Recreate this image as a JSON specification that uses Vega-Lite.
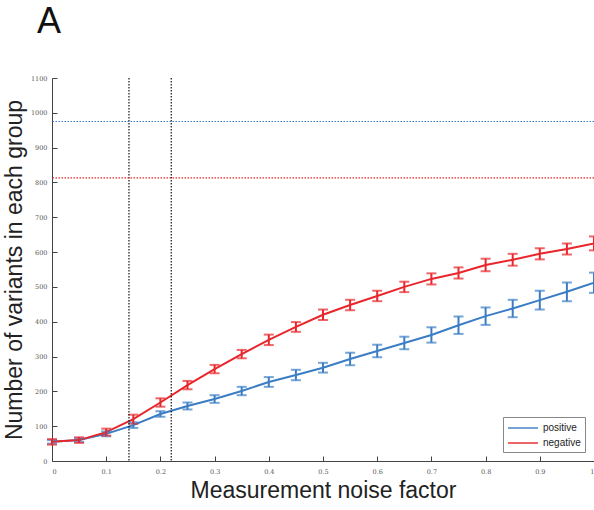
{
  "$schema": "https://vega.github.io/schema/vega-lite/v6.json",
  "width": 542,
  "height": 383,
  "autosize": {"type": "none"},
  "padding": {"left": 52, "top": 78, "right": 0, "bottom": 49},
  "background": "white",
  "title": {"text": "A", "anchor": "start", "frame": "group", "fontSize": 36, "font": "Liberation Sans", "fontWeight": "normal", "color": "#111", "dx": -15, "offset": 34},
  "datasets": {
    "series": [
      {"noise": 0.00, "group": "positive", "mean": 55, "err": 5},
      {"noise": 0.05, "group": "positive", "mean": 60, "err": 5},
      {"noise": 0.10, "group": "positive", "mean": 78, "err": 7},
      {"noise": 0.15, "group": "positive", "mean": 103, "err": 8},
      {"noise": 0.20, "group": "positive", "mean": 135, "err": 8},
      {"noise": 0.25, "group": "positive", "mean": 158, "err": 10},
      {"noise": 0.30, "group": "positive", "mean": 178, "err": 11},
      {"noise": 0.35, "group": "positive", "mean": 201, "err": 12},
      {"noise": 0.40, "group": "positive", "mean": 227, "err": 14},
      {"noise": 0.45, "group": "positive", "mean": 247, "err": 15},
      {"noise": 0.50, "group": "positive", "mean": 268, "err": 14},
      {"noise": 0.55, "group": "positive", "mean": 293, "err": 18},
      {"noise": 0.60, "group": "positive", "mean": 316, "err": 18},
      {"noise": 0.65, "group": "positive", "mean": 339, "err": 18},
      {"noise": 0.70, "group": "positive", "mean": 362, "err": 22},
      {"noise": 0.75, "group": "positive", "mean": 390, "err": 25},
      {"noise": 0.80, "group": "positive", "mean": 416, "err": 25},
      {"noise": 0.85, "group": "positive", "mean": 438, "err": 25},
      {"noise": 0.90, "group": "positive", "mean": 462, "err": 27},
      {"noise": 0.95, "group": "positive", "mean": 486, "err": 27},
      {"noise": 1.00, "group": "positive", "mean": 512, "err": 29},
      {"noise": 0.00, "group": "negative", "mean": 55, "err": 8},
      {"noise": 0.05, "group": "negative", "mean": 60, "err": 8},
      {"noise": 0.10, "group": "negative", "mean": 83, "err": 10},
      {"noise": 0.15, "group": "negative", "mean": 120, "err": 13},
      {"noise": 0.20, "group": "negative", "mean": 168, "err": 12},
      {"noise": 0.25, "group": "negative", "mean": 218, "err": 12},
      {"noise": 0.30, "group": "negative", "mean": 264, "err": 12},
      {"noise": 0.35, "group": "negative", "mean": 307, "err": 12},
      {"noise": 0.40, "group": "negative", "mean": 348, "err": 15},
      {"noise": 0.45, "group": "negative", "mean": 385, "err": 14},
      {"noise": 0.50, "group": "negative", "mean": 420, "err": 15},
      {"noise": 0.55, "group": "negative", "mean": 448, "err": 15},
      {"noise": 0.60, "group": "negative", "mean": 474, "err": 15},
      {"noise": 0.65, "group": "negative", "mean": 500, "err": 15},
      {"noise": 0.70, "group": "negative", "mean": 523, "err": 16},
      {"noise": 0.75, "group": "negative", "mean": 540, "err": 16},
      {"noise": 0.80, "group": "negative", "mean": 563, "err": 18},
      {"noise": 0.85, "group": "negative", "mean": 578, "err": 17},
      {"noise": 0.90, "group": "negative", "mean": 595, "err": 16},
      {"noise": 0.95, "group": "negative", "mean": 609, "err": 16},
      {"noise": 1.00, "group": "negative", "mean": 625, "err": 20}
    ],
    "vlines": [{"v": 0.142}, {"v": 0.22}],
    "hpos": [{"h": 975}],
    "hneg": [{"h": 813}]
  },
  "layer": [
    {
      "data": {"name": "series"},
      "encoding": {
        "x": {"field": "noise", "type": "quantitative", "title": "Measurement noise factor", "scale": {"domain": [0, 1], "nice": false},
              "axis": {"title": "Measurement noise factor", "values": [0, 0.1, 0.2, 0.3, 0.4, 0.5, 0.6, 0.7, 0.8, 0.9, 1], "format": "~g", "labelOverlap": false}},
        "y": {"field": "mean", "type": "quantitative", "title": "Number of variants in each group", "scale": {"domain": [0, 1100], "nice": false},
              "axis": {"title": "Number of variants in each group", "values": [0, 100, 200, 300, 400, 500, 600, 700, 800, 900, 1000, 1100], "format": "d", "labelOverlap": false}},
        "color": {"field": "group", "type": "nominal",
                  "scale": {"domain": ["positive", "negative"], "range": ["#3b7dc4", "#e8262b"]},
                  "legend": {"title": null, "orient": "none", "legendX": 451, "legendY": 339, "symbolType": "M-1,0H4", "symbolSize": 144, "symbolStrokeWidth": 2, "labelOffset": 22, "labelFontSize": 10, "labelFont": "Liberation Sans", "labelColor": "#222", "strokeColor": "#888", "padding": 4, "rowPadding": 3, "fillColor": "white"}}
      },
      "layer": [
        {"mark": {"type": "line", "strokeWidth": 2}},
        {
          "mark": {"type": "errorbar", "ticks": {"size": 10}, "thickness": 2},
          "encoding": {"yError": {"field": "err"}}
        }
      ]
    },
    {
      "data": {"name": "vlines"},
      "mark": {"type": "rule", "color": "#111", "strokeDash": [1.5, 1.5], "strokeWidth": 1.2},
      "encoding": {"x": {"field": "v", "type": "quantitative", "title": "Measurement noise factor",
              "axis": {"title": "Measurement noise factor", "values": [0, 0.1, 0.2, 0.3, 0.4, 0.5, 0.6, 0.7, 0.8, 0.9, 1], "format": "~g", "labelOverlap": false}}}
    },
    {
      "data": {"name": "hpos"},
      "mark": {"type": "rule", "color": "#3b7dc4", "strokeDash": [1.5, 1.5], "strokeWidth": 1.2},
      "encoding": {"y": {"field": "h", "type": "quantitative", "title": "Number of variants in each group",
              "axis": {"title": "Number of variants in each group", "values": [0, 100, 200, 300, 400, 500, 600, 700, 800, 900, 1000, 1100], "format": "d", "labelOverlap": false}}}
    },
    {
      "data": {"name": "hneg"},
      "mark": {"type": "rule", "color": "#e8262b", "strokeDash": [1.5, 1.5], "strokeWidth": 1.2},
      "encoding": {"y": {"field": "h", "type": "quantitative", "title": "Number of variants in each group",
              "axis": {"title": "Number of variants in each group", "values": [0, 100, 200, 300, 400, 500, 600, 700, 800, 900, 1000, 1100], "format": "d", "labelOverlap": false}}}
    }
  ],
  "config": {
    "view": {"stroke": null},
    "axis": {
      "grid": false,
      "domainColor": "#444",
      "tickColor": "#444",
      "tickSize": -5,
      "labelColor": "#555",
      "labelFont": "DejaVu Serif",
      "labelFontSize": 6.5,
      "labelOverlap": false,
      "titleFont": "Liberation Sans",
      "titleFontSize": 23,
      "titleFontWeight": "normal",
      "titleColor": "#222"
    },
    "axisX": {"titlePadding": 5, "labelPadding": 12},
    "axisY": {"titlePadding": 4, "labelPadding": 10}
  }
}
